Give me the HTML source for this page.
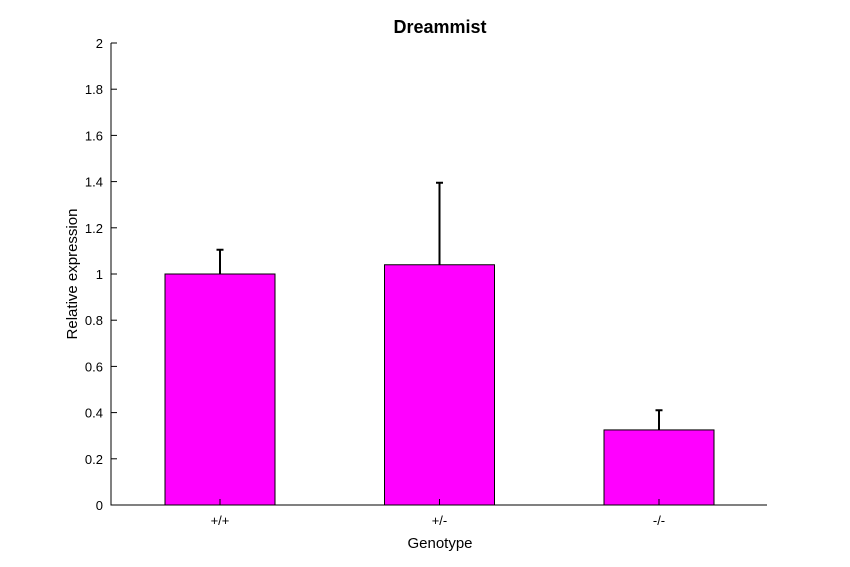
<!DOCTYPE html>
<html><head><meta charset="utf-8"><style>
body{margin:0;background:#fff;}
svg{display:block;font-family:"Liberation Sans",Arial,sans-serif;}
</style></head><body>
<svg id="chart" width="850" height="567">
<rect width="850" height="567" fill="#fff"/>
<text x="440" y="33" text-anchor="middle" font-size="18" font-weight="bold">Dreammist</text>
<text transform="translate(77,274) rotate(-90)" text-anchor="middle" font-size="15">Relative expression</text>
<text x="440" y="548" text-anchor="middle" font-size="15">Genotype</text>
<g id="marks"></g>
<g id="axes"></g>
</svg>
<script>
const categories = ["+/+", "+/-", "-/-"];
const values = [1.0, 1.04, 0.325];
const errors = [0.105, 0.355, 0.085];
const yTicks = [0, 0.2, 0.4, 0.6, 0.8, 1, 1.2, 1.4, 1.6, 1.8, 2];

const NS = "http://www.w3.org/2000/svg";
const x0 = 111, x1 = 767, yTop = 43, yBot = 505, yMax = 2;
const yScale = v => yBot - (v / yMax) * (yBot - yTop);
const step = (x1 - x0) / 3;
const xCenter = i => 220 + i * 219.5;
const barW = 110;
function mk(tag, attrs, parent) {
  const e = document.createElementNS(NS, tag);
  for (const k in attrs) e.setAttribute(k, attrs[k]);
  parent.appendChild(e);
  return e;
}
const marks = document.getElementById("marks");
const axes = document.getElementById("axes");
values.forEach((v, i) => {
  const cx = xCenter(i);
  const b = mk("rect", {x: cx - barW / 2, y: yScale(v), width: barW, height: yBot - yScale(v), fill: "#ff00ff", stroke: "#000", "stroke-width": 1}, marks);
  
  
  const e = mk("path", {d: `M${cx},${yScale(v)}V${yScale(v + errors[i])}M${cx - 3.5},${yScale(v + errors[i])}H${cx + 3.5}`, stroke: "#000", "stroke-width": 2, fill: "none"}, marks);
  
  
  const t = mk("text", {x: cx, y: yBot + 20, "text-anchor": "middle", "font-size": 13}, axes);
  t.textContent = categories[i];
  
  
  const tk = mk("line", {x1: cx, x2: cx, y1: yBot, y2: yBot - 6, stroke: "#000"}, axes);
  
  
});
const ax = mk("path", {d: `M${x0},${yTop}V${yBot}H${x1}`, stroke: "#000", fill: "none", "stroke-width": 1}, axes);


yTicks.forEach(v => {
  const y = yScale(v);
  const l = mk("line", {x1: x0, x2: x0 + 6, y1: y, y2: y, stroke: "#000"}, axes);
  
  
  const t = mk("text", {x: x0 - 8, y: y + 5, "text-anchor": "end", "font-size": 13}, axes);
  t.textContent = String(v);
  
  
});
</script>
</body></html>
